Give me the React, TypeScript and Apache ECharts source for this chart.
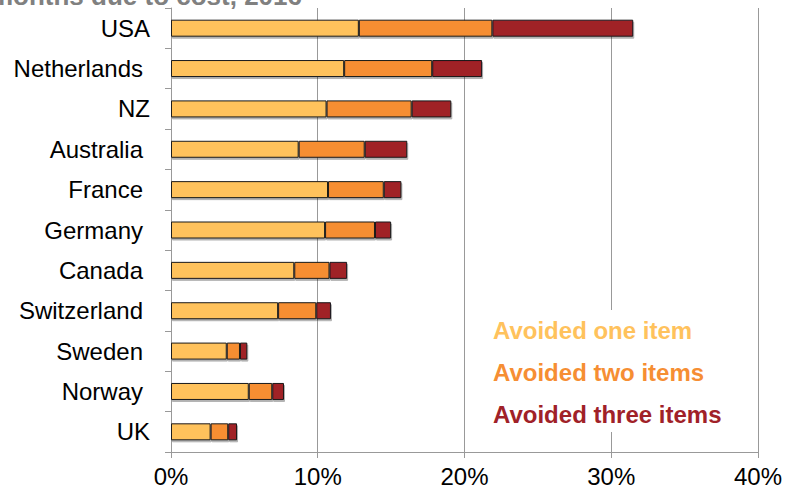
import React, { useEffect, useRef } from "react";
import * as echarts from "echarts";

// Countries, top to bottom. A trailing space is kept as it came in the source table.
const countries = [
  "USA",
  "Netherlands ",
  "NZ",
  "Australia ",
  "France ",
  "Germany ",
  "Canada ",
  "Switzerland ",
  "Sweden ",
  "Norway ",
  "UK",
];

// Share of adults (%) who skipped items due to cost
const avoidedOne = [12.8, 11.8, 10.6, 8.7, 10.7, 10.5, 8.4, 7.3, 3.8, 5.3, 2.7];
const avoidedTwo = [9.1, 6.0, 5.8, 4.5, 3.8, 3.4, 2.4, 2.6, 0.9, 1.6, 1.2];
const avoidedThree = [9.6, 3.4, 2.7, 2.9, 1.2, 1.1, 1.2, 1.0, 0.5, 0.8, 0.6];

const seriesNames = ["Avoided one item", "Avoided two items", "Avoided three items"];
const seriesColors = ["#FFC25C", "#F68E33", "#A02128"];

const xTicks = { min: 0, max: 40, interval: 10 };
const titleText = "months due to cost, 2016";

const FONT = "'Liberation Sans', Arial, Helvetica, sans-serif";

export default function App() {
  const ref = useRef<HTMLDivElement>(null);

  useEffect(() => {
    document.body.style.margin = "0";
    if (!ref.current) return;
    const chart = echarts.init(ref.current, undefined, { renderer: "svg" });

    const values = [avoidedOne, avoidedTwo, avoidedThree];

    chart.setOption({
      animation: false,
      backgroundColor: "#ffffff",
      textStyle: { fontFamily: FONT },
      grid: { left: 171, right: 26, top: 8, bottom: 40, containLabel: false },
      graphic: [
        {
          // tail of the heading, whose upper part lies above the page edge
          type: "text",
          x: 302,
          y: -4,
          silent: true,
          style: {
            text: titleText,
            align: "right",
            verticalAlign: "middle",
            fontFamily: FONT,
            fontSize: 26,
            fontWeight: "bold",
            fill: "#808080",
          },
        },
      ],
      legend: {
        orient: "vertical",
        left: 488,
        top: 310,
        icon: "none",
        itemWidth: 0,
        itemHeight: 0,
        itemGap: 12,
        selectedMode: false,
        backgroundColor: "#ffffff",
        padding: [5, 10, 3, 0],
        textStyle: {
          fontFamily: FONT,
          fontSize: 24,
          fontWeight: "bold",
          lineHeight: 30,
        },
        data: seriesNames.map((name, i) => ({
          name,
          textStyle: { color: seriesColors[i] },
        })),
      },
      xAxis: {
        type: "value",
        min: xTicks.min,
        max: xTicks.max,
        interval: xTicks.interval,
        axisLine: { show: true, lineStyle: { color: "#999999", width: 1 } },
        axisTick: { show: true, length: 6, lineStyle: { color: "#999999" } },
        splitLine: { show: true, lineStyle: { color: "#999999", width: 1 } },
        axisLabel: {
          formatter: "{value}%",
          color: "#000000",
          fontFamily: FONT,
          fontSize: 24,
          margin: 12,
        },
      },
      yAxis: {
        type: "category",
        inverse: true,
        data: countries,
        axisLine: { show: true, lineStyle: { color: "#999999", width: 1 } },
        axisTick: { show: true, length: 6, lineStyle: { color: "#999999" } },
        axisLabel: {
          color: "#000000",
          fontFamily: FONT,
          fontSize: 24,
          margin: 21,
          formatter: (v: string) =>
            v.endsWith(" ") ? `{pad|${v.trim()}}` : `{plain|${v}}`,
          rich: {
            pad: { padding: [0, 7, 0, 0], fontSize: 24, fontFamily: FONT, color: "#000000" },
            plain: { fontSize: 24, fontFamily: FONT, color: "#000000" },
          },
        },
      },
      series: seriesNames.map((name, i) => ({
        name,
        type: "bar",
        stack: "total",
        barWidth: 17,
        data: values[i],
        itemStyle: {
          color: seriesColors[i],
          borderColor: "#1a1a1a",
          borderWidth: 1,
          shadowColor: "rgba(0,0,0,0.3)",
          shadowOffsetX: 1,
          shadowOffsetY: 2,
          shadowBlur: 1,
        },
      })),
    });

    return () => chart.dispose();
  }, []);

  return <div ref={ref} style={{ width: 785, height: 492 }} />;
}
